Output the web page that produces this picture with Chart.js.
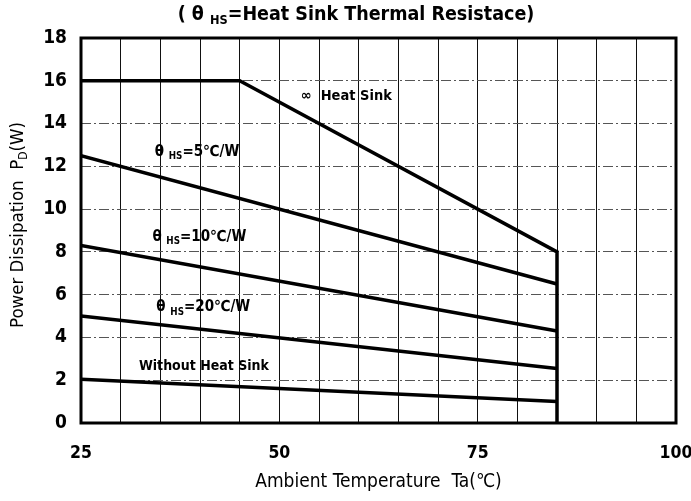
<!DOCTYPE html>
<html lang="en">
<head>
<meta charset="UTF-8">
<title>Power Dissipation vs Ambient Temperature</title>
<script src="https://cdn.jsdelivr.net/npm/chart.js"></script>
<style>
  html, body { margin: 0; padding: 0; background: #fff; }
  canvas { display: block; }
</style>
</head>
<body>
<canvas id="pdChart" width="691" height="501"></canvas>
<script>
// Ambient temperature (°C) and power dissipation (W) for each curve
const infTemp = [25, 45, 85, 85];
const infPower = [16, 16, 8, 0];
const hs5Temp = [25, 85];
const hs5Power = [12.5, 6.5];
const hs10Temp = [25, 85];
const hs10Power = [8.3, 4.3];
const hs20Temp = [25, 85];
const hs20Power = [5.0, 2.55];
const noHsTemp = [25, 85];
const noHsPower = [2.05, 1.0];

const xLabels = [25, 50, 75, 100];

const FONT = "'DejaVu Sans Condensed', 'Liberation Sans', sans-serif";

function pts(xs, ys) {
    return xs.map((x, i) => ({ x: x, y: ys[i] }));
}

// draw text made of normal / subscript parts
function drawParts(ctx, parts, x, y, size, align, weight) {
    const w = weight || 'bold';
    let total = 0;
    parts.forEach(p => {
        ctx.font = w + ' ' + (p.sub ? size * 0.65 : size) + 'px ' + FONT;
        p.w = ctx.measureText(p.t).width;
        total += p.w;
    });
    let cx = align === 'center' ? x - total / 2 : x;
    ctx.textBaseline = 'middle';
    ctx.textAlign = 'left';
    parts.forEach(p => {
        ctx.font = w + ' ' + (p.sub ? size * 0.65 : size) + 'px ' + FONT;
        ctx.fillText(p.t, cx, p.sub ? y + size * 0.3 : y);
        cx += p.w;
    });
}

const textPlugin = {
    id: 'texts',
    afterDraw(chart) {
        const ctx = chart.ctx;
        const xs = chart.scales.x, ys = chart.scales.y;
        const ca = chart.chartArea;
        ctx.save();
        ctx.fillStyle = '#000';

        // frame around plot
        ctx.strokeStyle = '#000';
        ctx.lineWidth = 3;
        ctx.strokeRect(ca.left, ca.top, ca.right - ca.left, ca.bottom - ca.top);

        // title
        drawParts(ctx, [{ t: '( θ ' }, { t: 'HS', sub: true }, { t: '=Heat Sink Thermal Resistace)' }],
            356, 15, 19.5, 'center');

        // x axis title
        drawParts(ctx, [{ t: 'Ambient Temperature  Ta(℃)' }], (ca.left + ca.right) / 2, 482, 19, 'center', 'normal');

        // y axis title (rotated)
        ctx.save();
        ctx.translate(18, 225);
        ctx.rotate(-Math.PI / 2);
        drawParts(ctx, [{ t: 'Power Dissipation  P' }, { t: 'D', sub: true }, { t: '(W)' }], 0, 0, 18.5, 'center', 'normal');
        ctx.restore();

        // curve labels
        const lab = (parts, tx, py, size) => drawParts(ctx, parts, xs.getPixelForValue(tx), ys.getPixelForValue(py), size, 'left');
        lab([{ t: '∞  Heat Sink' }], 52.7, 15.3, 14.5);
        lab([{ t: 'θ ' }, { t: 'HS', sub: true }, { t: '=5℃/W' }], 34.3, 12.65, 15);
        lab([{ t: 'θ ' }, { t: 'HS', sub: true }, { t: '=10℃/W' }], 34.0, 8.7, 15);
        lab([{ t: 'θ ' }, { t: 'HS', sub: true }, { t: '=20℃/W' }], 34.5, 5.4, 15);
        lab([{ t: 'Without Heat Sink' }], 32.3, 2.65, 14);
        ctx.restore();
    }
};

function line(xs, ys) {
    return {
        data: pts(xs, ys),
        borderColor: '#000',
        borderWidth: 3.5,
        pointRadius: 0,
        fill: false,
        tension: 0
    };
}

new Chart(document.getElementById('pdChart'), {
    type: 'line',
    data: {
        datasets: [
            line(infTemp, infPower),
            line(hs5Temp, hs5Power),
            line(hs10Temp, hs10Power),
            line(hs20Temp, hs20Power),
            line(noHsTemp, noHsPower)
        ]
    },
    options: {
        responsive: false,
        animation: false,
        layout: { padding: { top: 38, right: 15, left: 0, bottom: 0 } },
        plugins: {
            legend: { display: false },
            tooltip: { enabled: false }
        },
        scales: {
            x: {
                type: 'linear',
                min: 25,
                max: 100,
                afterFit(scale) {
                    scale.height = 78;
                    scale.paddingLeft = 0;
                    scale.paddingRight = 0;
                },
                ticks: {
                    stepSize: 5,
                    autoSkip: false,
                    maxRotation: 0,
                    padding: 20,
                    color: '#000',
                    font: { family: FONT, size: 17.5, weight: 'bold' },
                    callback: v => xLabels.includes(v) ? String(v) : ''
                },
                grid: { color: '#111', lineWidth: 1, drawTicks: false },
                border: { display: false }
            },
            y: {
                min: 0,
                max: 18,
                afterFit(scale) {
                    scale.width = 81;
                    scale.paddingTop = 0;
                    scale.paddingBottom = 0;
                },
                ticks: {
                    stepSize: 2,
                    padding: 14,
                    color: '#000',
                    font: { family: FONT, size: 19, weight: 'bold' }
                },
                grid: { color: '#555', lineWidth: 1, drawTicks: false },
                border: { display: false, dash: [10, 3, 2, 3] }
            }
        }
    },
    plugins: [textPlugin]
});
</script>
</body>
</html>
